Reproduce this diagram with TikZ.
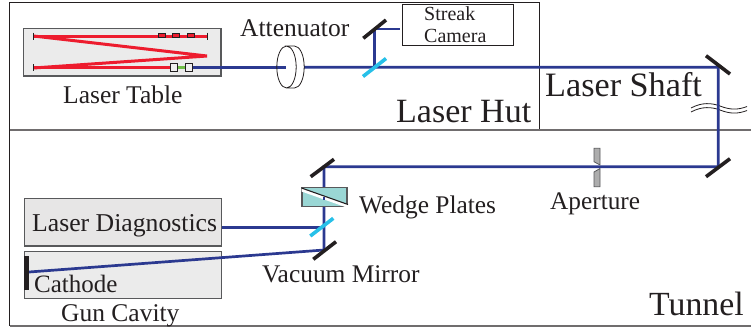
\documentclass[tikz,border=0pt]{standalone}
\usepackage{fontspec}
\setmainfont{Liberation Serif}
\definecolor{beam}{HTML}{2B3990}
\definecolor{redbeam}{HTML}{ED1C2E}
\definecolor{splitter}{HTML}{27C0E8}
\definecolor{ink}{HTML}{231F20}
\definecolor{edgegray}{HTML}{58595B}
\definecolor{wedgefill}{HTML}{9AD7D5}
\definecolor{greenbeam}{HTML}{6EBE46}
\tikzset{
  wall/.style={draw=ink,line width=1pt},
  softwall/.style={draw=ink!65,line width=1.2pt},
  benchbox/.style={draw=edgegray,line width=1.2pt,fill=#1,minimum width=197pt,minimum height=47.5pt,inner sep=0pt},
  beamline/.style={draw=beam,line width=2.7pt},
  redline/.style={draw=redbeam,line width=3pt},
  mirrorbar/.style={draw=ink,line width=3.6pt},
  splitbar/.style={draw=splitter,line width=3.6pt},
  lab/.style={anchor=base west,inner sep=0pt,text=ink,font=\fontsize{#1}{#1}\selectfont},
  smallpart/.style={draw=ink,line width=0.9pt,fill=#1,inner sep=0pt},
  thinink/.style={draw=ink,line width=0.8pt},
}
\begin{document}
\begin{tikzpicture}[x=1pt,y=-1pt]
\useasboundingbox (0,0) rectangle (751,330);
% rooms
\draw[wall] (539.5,130) -- (539.5,2.5) -- (9.5,2.5) -- (9.5,326);
\draw[softwall] (9.5,326) -- (751,326);
\draw[softwall] (9.5,130) -- (751,130);
% coordinates of the optical path
\coordinate (attIn) at (286,67.3);
\coordinate (attOut) at (304,67.3);
\coordinate (split1) at (374.5,67.3);
\coordinate (sm) at (374.5,29);
\coordinate (cam) at (400,29);
\coordinate (m1) at (718.3,67.3);
\coordinate (m2) at (718.3,166.7);
\coordinate (m3) at (324,166.7);
\coordinate (split2) at (324,227.3);
\coordinate (m4) at (324,250);
\coordinate (cath) at (29,272);
% boxes
\node[benchbox=black!8,minimum width=197.5pt] (table) at (122.3,52.3) {};
\node[benchbox=ink!11] (diag) at (123,222.3) {};
\node[benchbox=black!8] (gun) at (123,275) {};
\node[draw=ink,line width=1pt,minimum width=110.5pt,minimum height=40.5pt,inner sep=0pt] (streak) at (458,24.8) {};
% red beams
\draw[redline] (33.5,36) -- (207,36);
\draw[redline,line join=miter] (33.5,36) -- (207,56) -- (33.5,68);
\draw[redline] (33.5,67.5) -- (172,67.5);
\draw[thinink] (33.5,32.5) -- (33.5,39.5) (207,32.5) -- (207,39.5) (33.5,64) -- (33.5,71);
\foreach \n/\x in {a/161.5,b/175.5,c/191}
  \node[smallpart=redbeam,minimum width=7pt,minimum height=4pt] (f\n) at (\x,35.5) {};
\draw[greenbeam,line width=2.4pt] (177,67.3) -- (186,67.3);
\node[smallpart=black!6,minimum width=6.5pt,minimum height=8pt] (c1) at (174,67.3) {};
\node[smallpart=black!6,minimum width=6.5pt,minimum height=8pt] (c2) at (189,67.3) {};
% break in the shaft
\fill[white] (691,108) .. controls (702,102) and (712,103) .. (720,106) .. controls (730,110) and (738,110) .. (747,106.5)
  -- (747,110.5) .. controls (738,114) and (730,114) .. (720,110) .. controls (712,107) and (702,106) .. (691,112) -- cycle;
\draw[thinink] (691,108) .. controls (702,102) and (712,103) .. (720,106) .. controls (730,110) and (738,110) .. (747,106.5);
\draw[thinink] (691,112) .. controls (702,106) and (712,107) .. (720,110) .. controls (730,114) and (738,114) .. (747,110.5);
% beam
\draw[beamline] (c2.east) -- (attIn);
\draw[beamline,line join=miter] (attOut) -- (split1) -- (m1) -- (m2) -- (m3) -- (m4) -- (cath);
\draw[beamline] (split1) -- (sm) -- (cam);
\draw[beamline] (diag.east |- split2) -- (split2);
% attenuator
\draw[thinink] (286.5,46) .. controls (281.1,46) and (276.8,55.4) .. (276.8,67) .. controls (276.8,78.6) and (281.1,88) .. (286.5,88)
  .. controls (291.9,88) and (296.2,78.6) .. (296.2,67) .. controls (296.2,55.4) and (291.9,46) .. (286.5,46) -- (294.5,46)
  .. controls (299.9,46) and (304.2,55.4) .. (304.2,67) .. controls (304.2,78.6) and (299.9,88) .. (294.5,88) -- (286.5,88);
% mirrors
\draw[mirrorbar] (363.3,38.3) -- (386,20);
\draw[splitbar] (363,76.5) -- (386,58.5);
\draw[mirrorbar] (706,55.7) -- (730,74);
\draw[mirrorbar] (706,176.7) -- (730,158.7);
\draw[mirrorbar] (310.7,176.7) -- (334,159.3);
\draw[splitbar] (310.3,236) -- (333.3,218.3);
\draw[mirrorbar] (313.3,259.3) -- (336,241.7);
\fill[ink] (24,256) rectangle (29,290);
% wedge plates
\node[draw=edgegray,line width=1.2pt,fill=wedgefill,minimum width=45pt,minimum height=19pt,inner sep=0pt] (wedge) at (324.5,197.2) {};
\fill[white] (301.5,188) -- (348,204.5) -- (348,208) -- (301.5,191.5) -- cycle;
\draw[ink,line width=1.1pt] (301.5,188) -- (348,204.5);
\draw[beam,line width=2.7pt] (324,196.5) -- (324,199.5);
% aperture
\draw[draw=edgegray,line width=0.8pt,fill=black!32] (594,148.3) -- (600,148.3) -- (600,165) -- (594,161.7) -- cycle;
\draw[draw=edgegray,line width=0.8pt,fill=black!32] (600,168.5) -- (600,186.7) -- (594,186.7) -- (594,172) -- cycle;
% labels
\node[lab=25.5] (lTable) at (63,103) {Laser Table};
\node[lab=25.5] (lAtt) at (240,36.7) {Attenuator};
\node[lab=20] (lStreak) at (424,20.7) {Streak};
\node[lab=20] (lCam) at (424,42.3) {Camera};
\node[lab=34] (lHut) at (396,122) {Laser Hut};
\node[lab=34.2] (lShaft) at (545,96) {Laser Shaft};
\node[lab=33.8] (lTunnel) at (649,315) {Tunnel};
\node[lab=25.3] (lAp) at (550,209) {Aperture};
\node[lab=25.4] (lWedge) at (359,213) {Wedge Plates};
\node[lab=25.4] (lVac) at (262,282) {Vacuum Mirror};
\node[lab=25.7] (lDiag) at (32,231.7) {Laser Diagnostics};
\node[lab=25] (lCath) at (34,292.7) {Cathode};
\node[lab=25.5] (lGun) at (61,321) {Gun Cavity};
\end{tikzpicture}
\end{document}
